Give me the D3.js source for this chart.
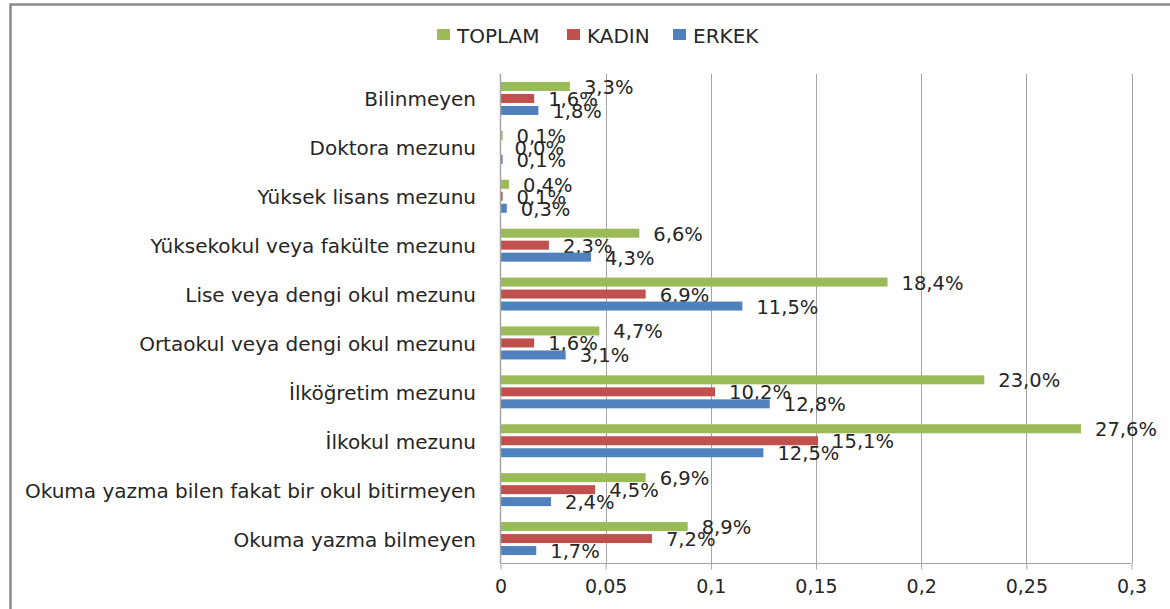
<!DOCTYPE html>
<html>
<head>
<meta charset="utf-8">
<script src="https://cdn.jsdelivr.net/npm/d3@7/dist/d3.min.js"></script>
<style>
  html, body { margin: 0; padding: 0; background: #fff; }
  svg { display: block; }
  text { font-family: "DejaVu Sans", sans-serif; fill: #262626; }
</style>
</head>
<body>
<svg id="chart" width="1170" height="609"></svg>
<script>
const categories = [
  "Bilinmeyen",
  "Doktora mezunu",
  "Yüksek lisans mezunu",
  "Yüksekokul veya fakülte mezunu",
  "Lise veya dengi okul mezunu",
  "Ortaokul veya dengi okul mezunu",
  "İlköğretim mezunu",
  "İlkokul mezunu",
  "Okuma yazma bilen fakat bir okul bitirmeyen",
  "Okuma yazma bilmeyen"
];
const seriesNames = ["TOPLAM", "KADIN", "ERKEK"];
const toplam = [0.033, 0.001, 0.004, 0.066, 0.184, 0.047, 0.230, 0.276, 0.069, 0.089];
const kadin  = [0.016, 0.000, 0.001, 0.023, 0.069, 0.016, 0.102, 0.151, 0.045, 0.072];
const erkek  = [0.018, 0.001, 0.003, 0.043, 0.115, 0.031, 0.128, 0.125, 0.024, 0.017];
const xTicks = [0, 0.05, 0.1, 0.15, 0.2, 0.25, 0.3];
const xTickLabels = ["0", "0,05", "0,1", "0,15", "0,2", "0,25", "0,3"];
const colors = { TOPLAM: "#9BBB59", KADIN: "#C0504D", ERKEK: "#4F81BD" };

const valuesBySeries = { TOPLAM: toplam, KADIN: kadin, ERKEK: erkek };

const svg = d3.select("#chart");

// outer border
svg.append("rect")
  .attr("x", 10.5).attr("y", 4.5)
  .attr("width", 1200).attr("height", 700)
  .attr("fill", "none").attr("stroke", "#8a8a8a").attr("stroke-width", 2.5);

const plotLeft = 500.5, plotRight = 1131.5, plotTop = 74, plotBottom = 563;

const x = d3.scaleLinear().domain([0, 0.3]).range([plotLeft, plotRight]);
const y = d3.scaleBand().domain(categories).range([plotTop, plotBottom])
  .paddingInner(0.264).paddingOuter(0.132);
const yInner = d3.scaleBand().domain(seriesNames).range([0, y.bandwidth()])
  .paddingInner(0.25).paddingOuter(0.125);

// gridlines
svg.append("g").selectAll("line").data(xTicks.slice(1)).join("line")
  .attr("x1", d => Math.round(x(d)) + 0.5).attr("x2", d => Math.round(x(d)) + 0.5)
  .attr("y1", plotTop).attr("y2", plotBottom)
  .attr("stroke", "#a6a6a6").attr("stroke-width", 1);

// x axis
const xAxis = d3.axisBottom(x).tickValues(xTicks)
  .tickFormat((d, i) => xTickLabels[i]).tickSize(6).tickPadding(10);
const gx = svg.append("g").attr("transform", `translate(0,${plotBottom + 0.5})`).call(xAxis);
gx.select(".domain").attr("stroke", "#a6a6a6").attr("d", `M${plotLeft},0H${plotRight}`);
gx.selectAll(".tick line").attr("stroke", "#a6a6a6");
gx.selectAll(".tick text").attr("font-size", "19px").attr("fill", "#262626")
  .attr("font-family", "DejaVu Sans, sans-serif");

// bars
const groups = svg.append("g").selectAll("g").data(categories).join("g")
  .attr("transform", d => `translate(0,${y(d)})`);

seriesNames.forEach(s => {
  const vals = valuesBySeries[s];
  groups.append("rect")
    .attr("x", plotLeft)
    .attr("y", yInner(s))
    .attr("width", (d, i) => Math.max(0, x(vals[i]) - plotLeft))
    .attr("height", yInner.bandwidth())
    .attr("fill", colors[s]);
  groups.append("text")
    .attr("x", (d, i) => x(vals[i]) + 14)
    .attr("y", yInner(s) + yInner.bandwidth() / 2 + 1)
    .attr("dominant-baseline", "central")
    .attr("font-size", "19.5px")
    .text((d, i) => (vals[i] * 100).toFixed(1).replace(".", ",") + "%");
});

// y axis line
svg.append("line")
  .attr("x1", plotLeft).attr("x2", plotLeft).attr("y1", plotTop).attr("y2", plotBottom + 0.5)
  .attr("stroke", "#a6a6a6").attr("stroke-width", 1.5);

// category labels
svg.append("g").selectAll("text").data(categories).join("text")
  .attr("x", 476)
  .attr("y", d => y(d) + y.bandwidth() / 2 + 1)
  .attr("text-anchor", "end")
  .attr("dominant-baseline", "central")
  .attr("font-size", "20px")
  .text(d => d);

// legend
const legendX = [437, 567, 673];
const legend = svg.append("g").selectAll("g").data(seriesNames).join("g")
  .attr("transform", (d, i) => `translate(${legendX[i]},29)`);
legend.append("rect").attr("width", 13).attr("height", 11).attr("fill", d => colors[d]);
legend.append("text").attr("x", 20).attr("y", 6.5)
  .attr("dominant-baseline", "central").attr("font-size", "20px").text(d => d);
</script>
</body>
</html>
